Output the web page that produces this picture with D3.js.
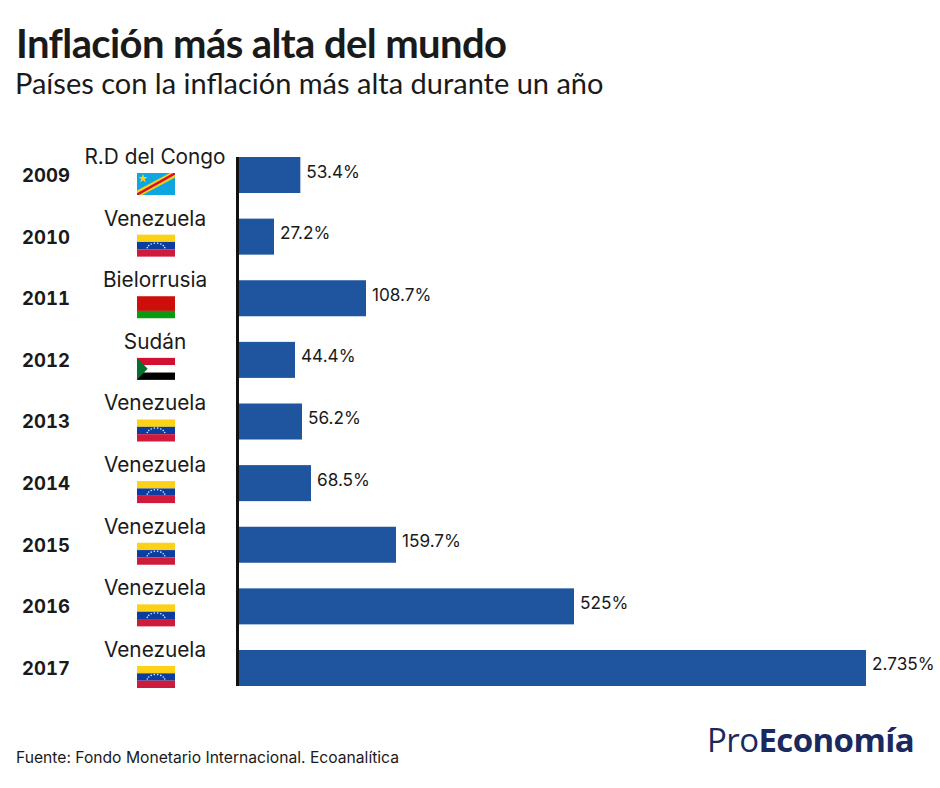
<!DOCTYPE html>
<html>
<head>
<meta charset="utf-8">
<script src="https://cdn.jsdelivr.net/npm/d3@7"></script>
<style>
  html, body { margin: 0; padding: 0; background: #fff; }
  text { font-family: Inter, "Open Sans", sans-serif; fill: #1a1a1a; }
</style>
</head>
<body>
<div id="chart"></div>
<script>
const years = ["2009", "2010", "2011", "2012", "2013", "2014", "2015", "2016", "2017"];
const countries = ["R.D del Congo", "Venezuela", "Bielorrusia", "Sudán", "Venezuela", "Venezuela", "Venezuela", "Venezuela", "Venezuela"];
const flags = ["cd", "ve", "by", "sd", "ve", "ve", "ve", "ve", "ve"];
const values = [53.4, 27.2, 108.7, 44.4, 56.2, 68.5, 159.7, 525, 2735];
const valueLabels = ["53.4%", "27.2%", "108.7%", "44.4%", "56.2%", "68.5%", "159.7%", "525%", "2.735%"];

const width = 940, height = 788;
const x0 = 239;

const svg = d3.select("#chart").append("svg")
    .attr("width", width)
    .attr("height", height)
    .style("display", "block");

// the bars in the original are not on a linear axis, so the scale is piecewise
const x = d3.scaleLinear()
    .domain([0, 27.2, 44.4, 56.2, 68.5, 108.7, 159.7, 525, 2735])
    .range([x0, 274, 295, 302, 311, 366, 396, 574, 866]);

const y = d3.scaleBand()
    .domain(years)
    .range([157, 686])
    .paddingInner(0.4156)
    .paddingOuter(0);

svg.append("text").attr("x", 16).attr("y", 58)
    .style("font-family", "Lato")
    .style("font-size", "40px").style("font-weight", 700).style("letter-spacing", "-0.6px")
    .text("Inflación más alta del mundo");
svg.append("text").attr("x", 15).attr("y", 94)
    .style("font-family", "Lato")
    .style("font-size", "29px")
    .text("Países con la inflación más alta durante un año");

svg.selectAll("rect.bar").data(values).join("rect")
    .attr("class", "bar")
    .attr("x", x0)
    .attr("y", (d, i) => y(years[i]))
    .attr("width", d => x(d) - x0)
    .attr("height", y.bandwidth())
    .attr("fill", "#1f559f");

svg.append("line")
    .attr("x1", 237.5).attr("x2", 237.5)
    .attr("y1", 157).attr("y2", 686)
    .attr("stroke", "#111").attr("stroke-width", 3);

svg.selectAll("text.year").data(years).join("text")
    .attr("class", "year")
    .attr("x", 46)
    .attr("y", d => y(d) + 25)
    .attr("text-anchor", "middle")
    .style("font-size", "18.5px").style("font-weight", 700)
    .style("font-variant-numeric", "tabular-nums")
    .text(d => d);

svg.selectAll("text.country").data(countries).join("text")
    .attr("class", "country")
    .attr("x", 155)
    .attr("y", (d, i) => y(years[i]) + 7)
    .attr("text-anchor", "middle")
    .style("font-size", "20.8px")
    .text(d => d);

svg.selectAll("text.value").data(values).join("text")
    .attr("class", "value")
    .attr("x", d => x(d) + 6)
    .attr("y", (d, i) => y(years[i]) + 20.5)
    .style("font-size", "17.2px")
    .text((d, i) => valueLabels[i]);

// flags, drawn in a 38x22 box
const fw = 38, fh = 22;
function drawFlag(g, code) {
  const band = (c, a, b) => g.append("rect").attr("x", 0).attr("y", fh * a).attr("width", fw).attr("height", fh * (b - a)).attr("fill", c);
  if (code === "ve") {
    band("#fcd116", 0, 1 / 3);
    band("#0b3da0", 1 / 3, 2 / 3);
    band("#ce1a3c", 2 / 3, 1);
    d3.range(8).forEach(k => {
      const a = Math.PI * (0.08 + 0.84 * k / 7);
      g.append("circle")
        .attr("cx", fw / 2 - Math.cos(a) * 9)
        .attr("cy", 14.5 - Math.sin(a) * 6)
        .attr("r", 0.8).attr("fill", "#dfe6f5");
    });
  } else if (code === "by") {
    band("#cc0f0a", 0, 2 / 3);
    band("#0a9a12", 2 / 3, 1);
  } else if (code === "sd") {
    band("#d21034", 0, 1 / 3);
    band("#fff", 1 / 3, 2 / 3);
    band("#000", 2 / 3, 1);
    g.append("path").attr("d", d3.line()([[0, 0], [fw * 0.28, fh / 2], [0, fh]])).attr("fill", "#007229");
  } else if (code === "cd") {
    band("#0ea5e0", 0, 1);
    g.append("path").attr("d", d3.line()([[0, fh], [0, fh * 0.8], [fw * 0.86, 0], [fw, 0], [fw, fh * 0.2], [fw * 0.14, fh]])).attr("fill", "#f7d117");
    g.append("path").attr("d", d3.line()([[0, fh], [0, fh * 0.92], [fw * 0.95, 0], [fw, 0], [fw, fh * 0.08], [fw * 0.05, fh]])).attr("fill", "#d21034");
    g.append("path").attr("d", d3.symbol(d3.symbolStar, 26)()).attr("transform", "translate(6,5.5)").attr("fill", "#f7d117");
  }
}

flags.forEach((code, i) => {
  const g = svg.append("g").attr("transform", `translate(137,${y(years[i]) + 16})`);
  drawFlag(g, code);
});

svg.append("text").attr("x", 16).attr("y", 763)
    .style("font-size", "15.65px")
    .text("Fuente: Fondo Monetario Internacional. Ecoanalítica");

const logo = svg.append("text").attr("x", 914).attr("y", 752).attr("text-anchor", "end")
    .style("font-family", "Open Sans").style("font-size", "33px").style("letter-spacing", "-0.6px");
logo.append("tspan").style("fill", "#1a2a5e").text("Pro");
logo.append("tspan").style("font-weight", 700).style("fill", "#1a2a5e").text("Economía");
</script>
</body>
</html>
